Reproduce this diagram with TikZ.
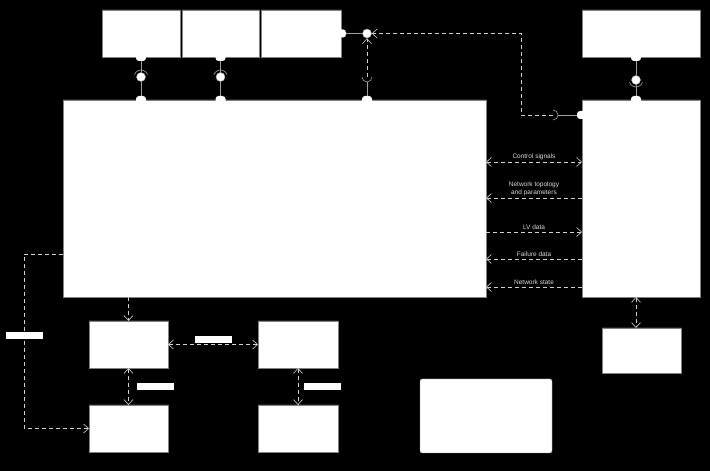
\documentclass[tikz,border=0pt]{standalone}
\usepackage{fontspec}
\setsansfont{Liberation Sans}
\usetikzlibrary{arrows.meta}
\usetikzlibrary{positioning}
\usetikzlibrary{shapes.misc}

\definecolor{wiregray}{HTML}{A0A0A0}
\definecolor{dashgray}{HTML}{CFCFCF}
\definecolor{textgray}{HTML}{DADADA}

\begin{document}
\begin{tikzpicture}[x=1pt, y=1pt,
  comp/.style={chamfered rectangle, chamfered rectangle corners=south west,
    chamfered rectangle sep=2.5pt, fill=white, draw=gray, line width=0.4pt,
    inner sep=0pt, outer sep=0pt},
  notebox/.style={rectangle, rounded corners=2pt, fill=white, draw=gray,
    line width=0.4pt, inner sep=0pt, minimum width=132pt, minimum height=74pt},
  port/.style={rectangle, rounded corners=3pt, fill=white, inner sep=0pt,
    minimum width=10pt, minimum height=8pt},
  ball/.style={circle, fill=white, draw=wiregray, inner sep=0pt, minimum size=9pt},
  wire/.style={draw=wiregray, line width=0.6pt},
  dep/.style={draw=dashgray, line width=0.6pt, dash pattern=on 4pt off 3pt,
    >={Straight Barb[length=5pt,width=9pt]}},
  lbl/.style={text=textgray, font=\sffamily\fontsize{6.5}{8}\selectfont,
    inner sep=1pt, align=center},
  tag/.style={fill=white, inner sep=0pt, minimum width=37pt, minimum height=7pt}
]

  % ---------- Background ----------
  \fill[black] (0,0) rectangle (710,471);
  \useasboundingbox (0,0) rectangle (710,471);

  % ---------- Top row ----------

  % Shapes
  \node[comp, minimum width=78pt, minimum height=47pt] at (141, 437.5) (B1) {};
  \node[comp, minimum width=77pt, minimum height=47pt] at (220.5, 437.5) (B2) {};
  \node[comp, minimum width=80pt, minimum height=47pt] at (301, 437.5) (B3) {};
  \node[comp, minimum width=118pt, minimum height=47pt] at (641, 437.5) (R1) {};

  % ---------- Middle row ----------
  \node[comp, minimum width=423pt, minimum height=197pt] at (274.5, 272.5) (M) {};
  \node[comp, minimum width=118pt, minimum height=197pt] at (641, 272.5) (R2) {};

  % ---------- Bottom part ----------
  \node[comp, minimum width=79pt, minimum height=47pt] at (128.5, 126.5) (A1) {};
  \node[comp, minimum width=80pt, minimum height=47pt] at (298, 126.5) (A2) {};
  \node[comp, minimum width=79pt, minimum height=47pt] at (128.5, 42.5) (C1) {};
  \node[comp, minimum width=80pt, minimum height=47pt] at (298, 42.5) (C2) {};
  \node[comp, minimum width=79pt, minimum height=45pt] at (641.5, 120.5) (R3) {};
  \node[notebox] at (486, 55) (N1) {};

  % ---------- Ports ----------
  \node[port] at (B1.south) (pB1) {};
  \node[port] at (B2.south) (pB2) {};
  \node[port] at (B3.east) (pB3) {};
  \node[port] at (M.north -| pB1) (pM1) {};
  \node[port] at (M.north -| pB2) (pM2) {};
  \node[port] at (367, 371) (pM3) {};
  \node[port] at (636, 414) (pR1) {};
  \node[port] at (636, 371) (pR2t) {};
  \node[port] at (582, 356) (pR2l) {};

  % ---------- Balls and sockets ----------
  \node[ball] at (141, 394) (ball1) {};
  \node[ball] at (220.5, 394) (ball2) {};
  \node[ball] at (367, 437.5) (ball3) {};
  \node[ball] at (636, 391) (ballR) {};
  \coordinate (sockM) at (367, 394);
  \coordinate (sockR) at (553, 356);
  \coordinate (bendR) at (521, 356);

  \draw[wire] (pB1) -- (ball1);
  \draw[wire] (ball1) -- (pM1);
  \draw[wire] ([shift={(160:7pt)}]ball1.center) arc[start angle=160, end angle=20, radius=7pt];

  \draw[wire] (pB2) -- (ball2);
  \draw[wire] (ball2) -- (pM2);
  \draw[wire] ([shift={(160:7pt)}]ball2.center) arc[start angle=160, end angle=20, radius=7pt];

  \draw[wire] (pR1) -- (ballR);
  \draw[wire] (ballR) -- (pR2t);
  \draw[wire] ([shift={(200:7pt)}]ballR.center) arc[start angle=200, end angle=340, radius=7pt];

  \draw[wire] (pB3) -- (ball3);
  \draw[wire] ([shift={(180:5pt)}]sockM) arc[start angle=180, end angle=360, radius=5pt];
  \draw[wire] ([yshift=-5pt]sockM) -- (pM3);
  \draw[dep, ->] (sockM) -- (ball3);

  \draw[wire] ([shift={(-90:5pt)}]sockR) arc[start angle=-90, end angle=90, radius=5pt];
  \draw[wire] ([xshift=5pt]sockR) -- (pR2l);
  \draw[dep, ->] (sockR) -- (bendR) |- (ball3);

  % ---------- Data flows ----------
  \draw[dep, <->] ([yshift=36.5pt]M.east) -- ([yshift=36.5pt]R2.west)
    node[midway, above=1pt, lbl] {Control signals};
  \draw[dep, <-] ([yshift=0.5pt]M.east) -- ([yshift=0.5pt]R2.west)
    node[midway, above=1pt, lbl] {Network topology\\and parameters};
  \draw[dep, ->] ([yshift=-33.5pt]M.east) -- ([yshift=-33.5pt]R2.west)
    node[midway, above=1pt, lbl] {LV data};
  \draw[dep, <-] ([yshift=-60.5pt]M.east) -- ([yshift=-60.5pt]R2.west)
    node[midway, above=1pt, lbl] {Failure data};
  \draw[dep, <-] ([yshift=-88.5pt]M.east) -- ([yshift=-88.5pt]R2.west)
    node[midway, above=1pt, lbl] {Network state};

  \draw[dep, <->] ([xshift=-5pt]R2.south) -- ([xshift=-5.5pt]R3.north);

  % ---------- Lower links ----------
  \coordinate (feed) at (24, 217);
  \draw[dep, ->] (M.west |- feed) -- (feed) |- (C1.west);
  \node[tag] at (24, 135.5) (tFeed) {};

  \draw[dep, ->] (M.south -| A1.north) -- (A1.north);
  \draw[dep, <->] (A1.east) -- (A2.west)
    node[midway, above=1.5pt, tag] (tA) {};
  \draw[dep, <->] (A1.south) -- (C1.north)
    node[midway, right=8pt, tag] (tAC1) {};
  \draw[dep, <->] (A2.south) -- (C2.north)
    node[midway, right=6pt, tag] (tAC2) {};
\end{tikzpicture}
\end{document}
